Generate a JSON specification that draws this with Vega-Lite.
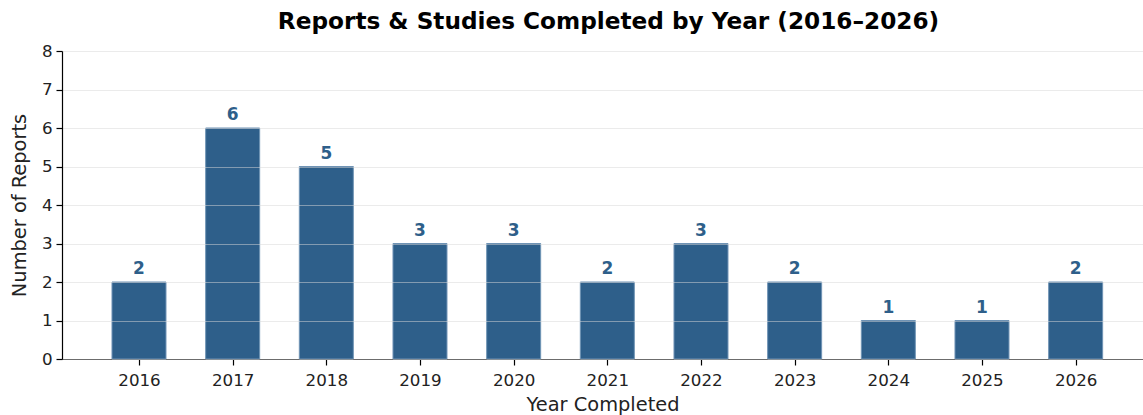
{
  "$schema": "https://vega.github.io/schema/vega-lite/v6.json",
  "width": 1081,
  "height": 308,
  "autosize": {"type": "none"},
  "padding": {"left": 62, "top": 51, "right": 0, "bottom": 56},
  "background": "white",
  "config": {
    "font": "DejaVu Sans",
    "view": {"stroke": null},
    "axis": {"labelFont": "DejaVu Sans", "titleFont": "DejaVu Sans", "labelColor": "#222222", "titleColor": "#222222", "domainColor": "#000000", "tickColor": "#000000", "labelFontSize": 16.7, "titleFontSize": 19.4, "titleFontWeight": "normal", "tickSize": 6, "domainWidth": 1.2, "tickWidth": 1.2}
  },
  "title": {"text": "Reports & Studies Completed by Year (2016–2026)", "fontSize": 23.2, "fontWeight": "bold", "font": "DejaVu Sans", "color": "#000000", "offset": 9, "dx": 6, "anchor": "middle"},
  "data": {"values": [
    {"year": 2016, "count": 2},
    {"year": 2017, "count": 6},
    {"year": 2018, "count": 5},
    {"year": 2019, "count": 3},
    {"year": 2020, "count": 3},
    {"year": 2021, "count": 2},
    {"year": 2022, "count": 3},
    {"year": 2023, "count": 2},
    {"year": 2024, "count": 1},
    {"year": 2025, "count": 1},
    {"year": 2026, "count": 2}
  ]},
  "encoding": {
    "x": {"field": "year", "type": "quantitative", "scale": {"domain": [2015.178, 2026.719], "nice": false, "zero": false, "padding": 0},
      "axis": {"values": [2016, 2017, 2018, 2019, 2020, 2021, 2022, 2023, 2024, 2025, 2026], "format": "d", "grid": false, "title": "Year Completed", "labelPadding": 7, "titlePadding": 7}},
    "y": {"field": "count", "type": "quantitative", "scale": {"domain": [0, 8], "nice": false},
      "axis": {"values": [0, 1, 2, 3, 4, 5, 6, 7, 8], "title": "Number of Reports", "grid": true, "gridColor": "#d8d8d8", "gridOpacity": 0.5, "gridWidth": 1, "zindex": 1, "labelPadding": 4, "titlePadding": 12}}
  },
  "layer": [
    {"mark": {"type": "bar", "size": 54, "color": "#2e5f8a", "stroke": "#6f93b5", "strokeWidth": 1}},
    {"mark": {"type": "text", "dy": -13, "fontSize": 17, "fontWeight": "bold", "color": "#2e5f8a", "font": "DejaVu Sans"},
     "encoding": {"text": {"field": "count", "type": "quantitative"}}}
  ]
}
